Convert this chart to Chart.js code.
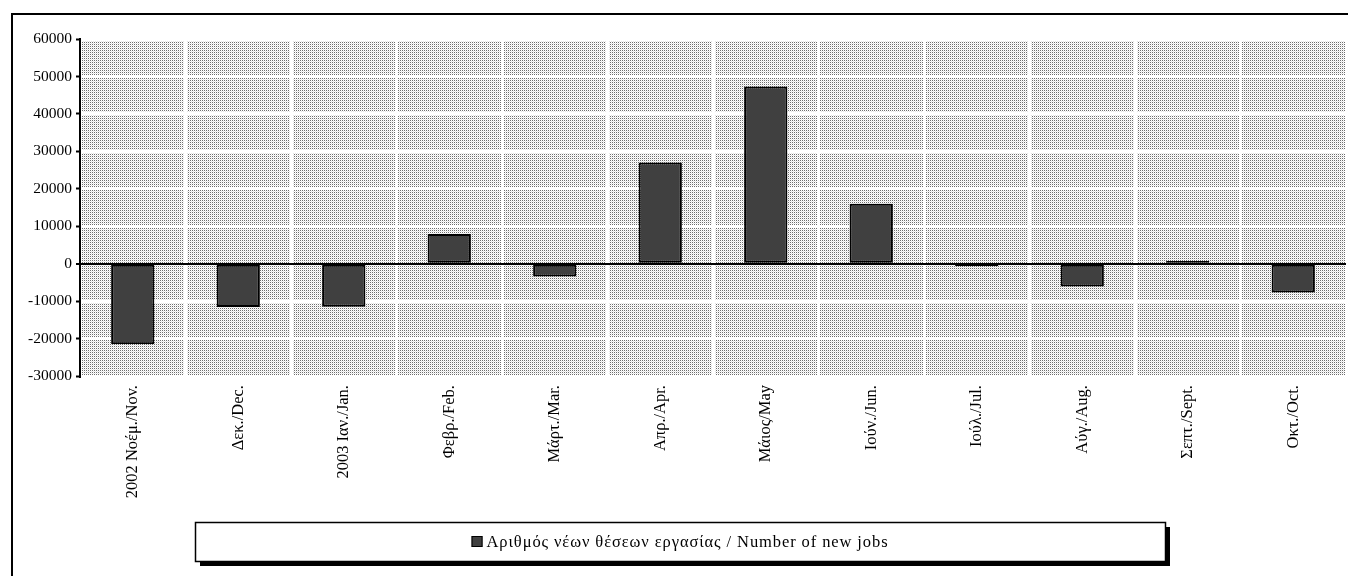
<!DOCTYPE html>
<html>
<head>
<meta charset="utf-8">
<script src="https://cdn.jsdelivr.net/npm/chart.js@4"></script>
<style>
  html, body { margin: 0; padding: 0; background: #fff; }
  #wrap { width: 1348px; height: 576px; position: relative; }
</style>
</head>
<body>
<div id="wrap"><canvas id="jobsChart"></canvas></div>
<script>
// --- Data ---
const categories = ['2002 Νοέμ./Nov.', 'Δεκ./Dec.', '2003 Ιαν./Jan.', 'Φεβρ./Feb.', 'Μάρτ./Mar.', 'Απρ./Apr.',
                    'Μάιος/May', 'Ιούν./Jun.', 'Ιούλ./Jul.', 'Αύγ./Aug.', 'Σεπτ./Sept.', 'Οκτ./Oct.'];
const newJobs = [-21500, -11600, -11500, 7900, -3400, 27000, 47300, 16000, -700, -6100, 700, -7700];
const seriesLabel = 'Αριθμός νέων θέσεων εργασίας / Number of new jobs';
const yMin = -30000;
const yMax = 60000;
const yStep = 10000;

const serif = '"Liberation Serif", "DejaVu Serif", serif';

// dotted grey fill of the plot area
function makePattern(ctx) {
    const c = document.createElement('canvas');
    c.width = 2; c.height = 2;
    const p = c.getContext('2d');
    p.fillStyle = '#fff';
    p.fillRect(0, 0, 2, 2);
    p.fillStyle = '#6e6e6e';
    p.fillRect(0, 0, 1, 1);
    p.fillStyle = '#e4e4e4';
    p.fillRect(1, 1, 1, 1);
    return ctx.createPattern(c, 'repeat');
}

const framePlugin = {
    id: 'frame',
    beforeDraw(chart) {
        const { ctx, chartArea: a } = chart;
        ctx.save();
        ctx.fillStyle = '#000';
        ctx.fillRect(11, 13, 2, 600);
        ctx.fillRect(11, 13, 1400, 2);
        ctx.fillStyle = makePattern(ctx);
        ctx.fillRect(a.left, a.top, a.right - a.left, a.bottom - a.top);
        ctx.restore();
    },
    afterDraw(chart) {
        // boxed legend with drop shadow
        const { ctx } = chart;
        const x = 195, y = 522, w = 970, h = 39;
        ctx.save();
        ctx.fillStyle = '#000';
        ctx.fillRect(x + 5, y + 5, w, h);
        ctx.fillStyle = '#fff';
        ctx.fillRect(x, y, w, h);
        ctx.strokeStyle = '#000';
        ctx.lineWidth = 1.5;
        ctx.strokeRect(x + 0.5, y + 0.5, w, h);
        ctx.font = '16.5px ' + serif;
        ctx.letterSpacing = '0.9px';
        const label = chart.data.datasets[0].label;
        const tw = ctx.measureText(label).width;
        const sw = 11, gap = 4;
        const sx = x + (w - (sw + gap + tw)) / 2;
        const cy = y + h / 2 + 1;
        ctx.fillStyle = '#404040';
        ctx.fillRect(sx, cy - sw / 2 - 1, sw, sw);
        ctx.lineWidth = 1;
        ctx.strokeRect(sx + 0.5, cy - sw / 2 - 0.5, sw - 1, sw - 1);
        ctx.fillStyle = '#000';
        ctx.textBaseline = 'middle';
        ctx.fillText(label, sx + sw + gap, cy);
        ctx.restore();
    }
};

const ctx = document.getElementById('jobsChart').getContext('2d');
new Chart(ctx, {
    type: 'bar',
    data: {
        labels: categories,
        datasets: [{
            label: seriesLabel,
            data: newJobs,
            backgroundColor: '#404040',
            borderColor: '#000',
            borderWidth: 2,
            borderSkipped: false,
            categoryPercentage: 1,
            barPercentage: 0.41
        }]
    },
    options: {
        responsive: true,
        maintainAspectRatio: false,
        animation: false,
        layout: { padding: { left: 0, top: 39, right: 2, bottom: 0 } },
        plugins: {
            legend: { display: false },
            tooltip: { enabled: false }
        },
        scales: {
            x: {
                afterFit: s => { s.height = 200; },
                border: { display: false },
                grid: { color: '#fff', lineWidth: 3, offset: true, drawTicks: false },
                ticks: {
                    color: '#000',
                    font: { family: serif, size: 16.5 },
                    minRotation: 90,
                    maxRotation: 90,
                    padding: 9,
                    autoSkip: false
                }
            },
            y: {
                min: yMin,
                max: yMax,
                afterFit: s => { s.width = 80; },
                border: { display: true, color: '#000', width: 2 },
                grid: {
                    color: c => (c.tick && c.tick.value === 0 ? '#000' : '#fff'),
                    lineWidth: c => (c.tick && c.tick.value === 0 ? 2 : 3),
                    tickColor: '#000',
                    tickLength: 4,
                    tickWidth: 2
                },
                ticks: {
                    stepSize: yStep,
                    color: '#000',
                    padding: 4,
                    font: { family: serif, size: 15.5 },
                    callback: v => String(v)
                }
            }
        }
    },
    plugins: [framePlugin]
});
</script>
</body>
</html>
